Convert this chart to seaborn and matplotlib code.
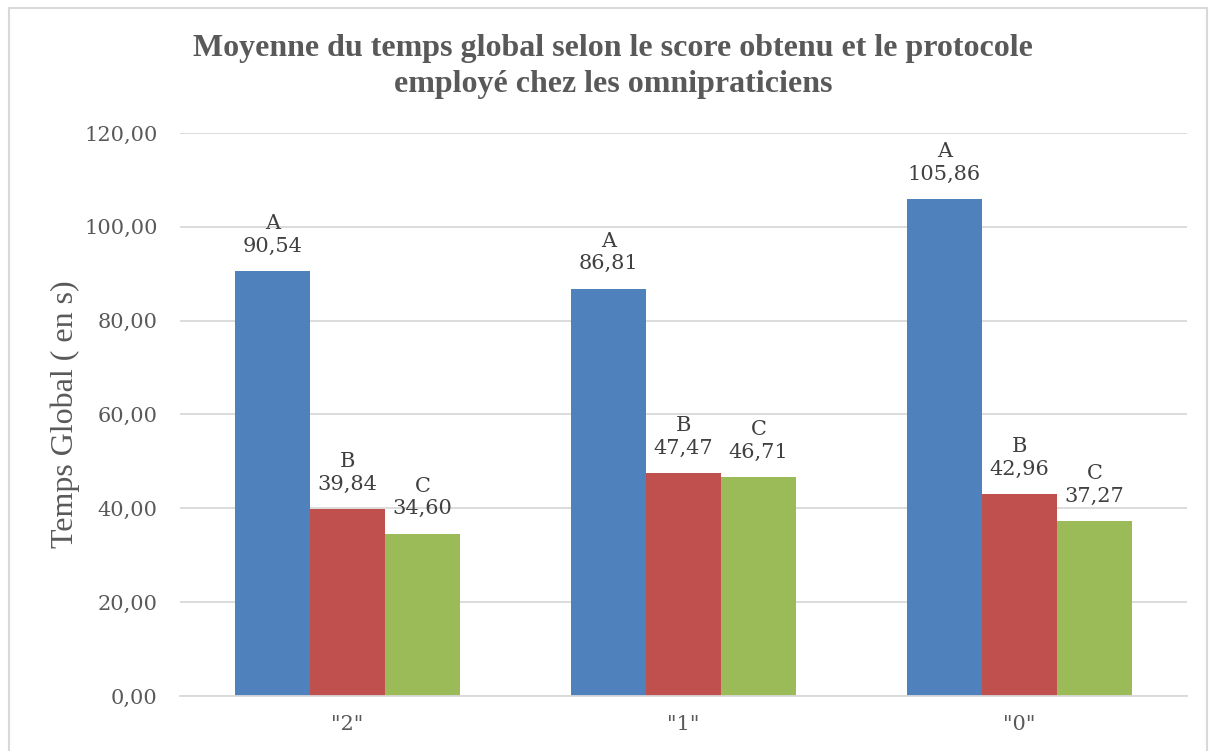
import matplotlib
matplotlib.use("Agg")
import matplotlib.pyplot as plt
import seaborn as sns
import pandas as pd
from matplotlib.patches import Rectangle

scores = ['"2"', '"1"', '"0"']
protocols = ["A", "B", "C"]
values_A = [90.54, 86.81, 105.86]
values_B = [39.84, 47.47, 42.96]
values_C = [34.60, 46.71, 37.27]
colors = ["#4F81BD", "#C0504D", "#9BBB59"]

rows = []
for p, vals in zip(protocols, [values_A, values_B, values_C]):
    for s, v in zip(scores, vals):
        rows.append({"score": s, "protocole": p, "temps": v})
df = pd.DataFrame(rows)

sns.set_style("white")
fig = plt.figure(figsize=(12.14, 7.51), dpi=100)
ax = fig.add_axes([0.148, 0.0732, 0.83, 0.7498])

sns.barplot(data=df, x="score", y="temps", hue="protocole", order=scores,
            hue_order=protocols, palette=colors, saturation=1, width=0.67,
            errorbar=None, ax=ax, legend=False, linewidth=0)

ax.set_ylim(0, 120)
ax.set_xlim(-0.5, 2.5)
ax.set_yticks([0, 20, 40, 60, 80, 100, 120])
ax.set_yticklabels([f"{t:.2f}".replace(".", ",") for t in [0, 20, 40, 60, 80, 100, 120]])
ax.yaxis.grid(True, color="#D9D9D9", linewidth=1.3)
ax.set_axisbelow(True)
for sp in ["top", "right", "left"]:
    ax.spines[sp].set_visible(False)
ax.spines["bottom"].set_color("#D9D9D9")
ax.spines["bottom"].set_linewidth(1.3)
ax.tick_params(axis="y", length=0, colors="#595959", labelsize=15, pad=16)
ax.tick_params(axis="x", length=0, colors="#595959", labelsize=15, pad=14)
for lab in ax.get_yticklabels() + ax.get_xticklabels():
    lab.set_fontfamily("DejaVu Serif")
ax.set_xlabel("")
ax.set_ylabel("Temps Global ( en s)", fontsize=23, family="Liberation Serif",
              color="#595959", labelpad=3)

for cont, p, vals in zip(ax.containers, protocols, [values_A, values_B, values_C]):
    labels = [f"{p}\n" + f"{v:.2f}".replace(".", ",") for v in vals]
    ax.bar_label(cont, labels=labels, padding=11, fontsize=15, family="DejaVu Serif",
                 color="#404040", linespacing=1.25)

fig.text(0.505, 0.955,
         "Moyenne du temps global selon le score obtenu et le protocole\nemployé chez les omnipraticiens",
         ha="center", va="top", fontsize=23, fontweight="bold", family="Liberation Serif",
         color="#595959", linespacing=1.35)

fig.patches.append(Rectangle((0.0075, -0.02), 0.987, 1.01, transform=fig.transFigure,
                             fill=False, edgecolor="#D9D9D9", linewidth=1.5))

fig.savefig("out.png", dpi=100)
